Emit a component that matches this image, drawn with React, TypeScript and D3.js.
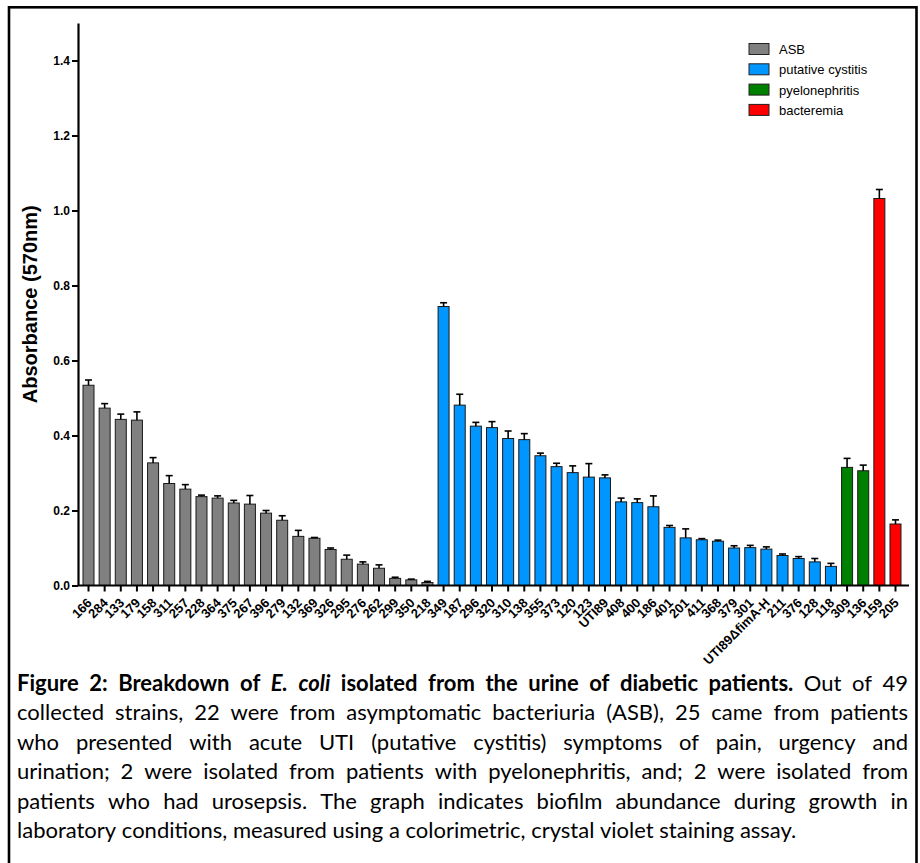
import React, { useEffect, useRef } from "react";
import * as d3 from "d3";

// strain labels per group
const asbStrains = ["166", "284", "133", "179", "158", "311", "257", "228", "364", "375", "267", "396", "279", "132", "369", "326", "295", "276", "262", "299", "350", "218"];
const cystitisStrains = ["349", "187", "296", "320", "310", "138", "355", "373", "120", "123", "UTI89", "408", "400", "186", "401", "201", "411", "368", "379", "301", "UTI89ΔfimA-H", "211", "376", "128", "118"];
const pyeloStrains = ["309", "136"];
const bacteremiaStrains = ["159", "205"];

// mean absorbance (570nm)
const asbMeans = [0.534, 0.473, 0.443, 0.441, 0.327, 0.272, 0.257, 0.237, 0.233, 0.22, 0.217, 0.193, 0.174, 0.131, 0.126, 0.096, 0.07, 0.057, 0.046, 0.019, 0.015, 0.008];
const cystitisMeans = [0.744, 0.481, 0.425, 0.421, 0.392, 0.389, 0.346, 0.317, 0.301, 0.289, 0.287, 0.223, 0.221, 0.21, 0.155, 0.127, 0.122, 0.118, 0.1, 0.101, 0.097, 0.08, 0.072, 0.063, 0.051];
const pyeloMeans = [0.315, 0.306];
const bacteremiaMeans = [1.032, 0.164];

// upper error bar (SEM)
const asbErrors = [0.014, 0.012, 0.014, 0.022, 0.014, 0.021, 0.012, 0.004, 0.006, 0.007, 0.023, 0.007, 0.012, 0.016, 0.002, 0.004, 0.011, 0.006, 0.009, 0.003, 0.002, 0.003];
const cystitisErrors = [0.01, 0.029, 0.01, 0.016, 0.02, 0.016, 0.007, 0.009, 0.018, 0.036, 0.008, 0.01, 0.01, 0.029, 0.005, 0.024, 0.003, 0.003, 0.006, 0.006, 0.006, 0.004, 0.005, 0.009, 0.008];
const pyeloErrors = [0.024, 0.015];
const bacteremiaErrors = [0.024, 0.011];

const groupNames = ["ASB", "putative cystitis", "pyelonephritis", "bacteremia"];
const groupColors = ["#808080", "#0096ff", "#008000", "#ff0000"];
const yTicks = [0, 0.2, 0.4, 0.6, 0.8, 1.0, 1.2, 1.4];

const captionLines = [
  "Figure 2: Breakdown of E. coli isolated from the urine of diabetic patients. Out of 49",
  "collected strains, 22 were from asymptomatic bacteriuria (ASB), 25 came from patients",
  "who presented with acute UTI (putative cystitis) symptoms of pain, urgency and",
  "urination; 2 were isolated from patients with pyelonephritis, and; 2 were isolated from",
  "patients who had urosepsis. The graph indicates biofilm abundance during growth in",
  "laboratory conditions, measured using a colorimetric, crystal violet staining assay.",
];

const WIDTH = 920;
const HEIGHT = 863;

export default function App() {
  const ref = useRef<SVGSVGElement>(null);

  useEffect(() => {
    const svg = d3.select(ref.current);
    svg.selectAll("*").remove();

    const rows = [
      [asbStrains, asbMeans, asbErrors],
      [cystitisStrains, cystitisMeans, cystitisErrors],
      [pyeloStrains, pyeloMeans, pyeloErrors],
      [bacteremiaStrains, bacteremiaMeans, bacteremiaErrors],
    ].flatMap(([names, means, errs]: any, g) =>
      names.map((n: string, i: number) => ({ name: n, mean: means[i], err: errs[i], group: g }))
    );

    const x = d3
      .scaleBand()
      .domain(rows.map((d) => d.name))
      .range([78, 906])
      .paddingInner(0.318)
      .paddingOuter(0.31);
    const y = d3.scaleLinear().domain([0, 1.5]).range([585.5, 23]);

    // frame
    svg
      .append("rect")
      .attr("x", 9)
      .attr("y", 7.3)
      .attr("width", 907.5)
      .attr("height", 900)
      .attr("fill", "none")
      .attr("stroke", "#000")
      .attr("stroke-width", 2.6);

    const chart = svg.append("g").attr("font-family", "'Liberation Sans', Arial, sans-serif");

    // bars
    chart
      .selectAll("rect.bar")
      .data(rows)
      .enter()
      .append("rect")
      .attr("class", "bar")
      .attr("x", (d) => x(d.name)!)
      .attr("y", (d) => y(d.mean))
      .attr("width", x.bandwidth())
      .attr("height", (d) => y(0) - y(d.mean))
      .attr("fill", (d) => groupColors[d.group])
      .attr("stroke", "#1a1a1a")
      .attr("stroke-width", 1);

    // error bars (upper only)
    const eb = chart
      .selectAll("g.err")
      .data(rows)
      .enter()
      .append("g")
      .attr("class", "err")
      .attr("stroke", "#000")
      .attr("stroke-width", 1.6);
    eb.append("line")
      .attr("x1", (d) => x(d.name)! + x.bandwidth() / 2)
      .attr("x2", (d) => x(d.name)! + x.bandwidth() / 2)
      .attr("y1", (d) => y(d.mean))
      .attr("y2", (d) => y(d.mean + d.err));
    eb.append("line")
      .attr("x1", (d) => x(d.name)! + x.bandwidth() / 2 - 3.5)
      .attr("x2", (d) => x(d.name)! + x.bandwidth() / 2 + 3.5)
      .attr("y1", (d) => y(d.mean + d.err))
      .attr("y2", (d) => y(d.mean + d.err));

    // y axis
    const yAxis = chart
      .append("g")
      .attr("transform", "translate(78,0)")
      .call(d3.axisLeft(y).tickValues(yTicks).tickFormat(d3.format(".1f")).tickSize(6).tickSizeOuter(0).tickPadding(2));
    yAxis.select(".domain").attr("stroke-width", 2.2);
    yAxis.selectAll(".tick line").attr("stroke-width", 2);
    yAxis.selectAll(".tick text").attr("font-size", 12).attr("font-weight", "bold").attr("fill", "#000");
    yAxis.attr("font-family", null);

    // x axis
    const xAxis = chart
      .append("g")
      .attr("transform", `translate(0,${y(0)})`)
      .call(d3.axisBottom(x).tickSize(6).tickSizeOuter(0));
    xAxis.select(".domain").attr("stroke-width", 2.2).attr("d", "M78,0H909");
    xAxis.selectAll(".tick line").attr("stroke-width", 2);
    xAxis
      .selectAll(".tick text")
      .attr("x", 0)
      .attr("y", 0)
      .attr("dy", "0.35em")
      .attr("text-anchor", "end")
      .attr("transform", "translate(1,15) rotate(-45)")
      .attr("font-size", 13)
      .attr("font-weight", "bold")
      .attr("fill", "#000");
    xAxis.attr("font-family", null);

    // y label
    chart
      .append("text")
      .attr("transform", `translate(37,${(y(0) + y(1.5)) / 2}) rotate(-90)`)
      .attr("text-anchor", "middle")
      .attr("font-size", 20)
      .attr("font-weight", "bold")
      .text("Absorbance (570nm)");

    // legend
    const legend = chart
      .selectAll("g.legend")
      .data(groupNames)
      .enter()
      .append("g")
      .attr("class", "legend")
      .attr("transform", (d, i) => `translate(749,${43.5 + i * 20.3})`);
    legend
      .append("rect")
      .attr("width", 20)
      .attr("height", 11)
      .attr("fill", (d, i) => groupColors[i])
      .attr("stroke", "#222")
      .attr("stroke-width", 1);
    legend
      .append("text")
      .attr("x", 30)
      .attr("y", 10.5)
      .attr("font-size", 13)
      .text((d) => d);

    // caption, justified like the source document
    const capLeft = 17;
    const capRight = 908;
    const capWidth = capRight - capLeft;
    const cap = svg.append("g").attr("font-family", "Lato, 'Open Sans', sans-serif").attr("fill", "#000");
    const probe = cap.append("text").attr("font-size", 20).text(captionLines[5]);
    const probeW = (probe.node() as SVGTextElement).getComputedTextLength();
    probe.remove();
    const fs = Math.max(16, Math.min(22, (20 * 815) / probeW));
    cap.attr("font-size", fs);

    const measure = (s: string, weight: string, style: string) => {
      const t = cap.append("text").attr("font-weight", weight).attr("font-style", style).text(s);
      const w = (t.node() as SVGTextElement).getComputedTextLength();
      t.remove();
      return w;
    };
    const spaceW = measure("x x", "normal", "normal") - measure("xx", "normal", "normal");

    captionLines.forEach((line, li) => {
      const words = line.split(" ").map((w, wi) => {
        const bold = li === 0 && wi < 13;
        const italic = li === 0 && (wi === 4 || wi === 5);
        const weight = bold ? "bold" : "normal";
        const style = italic ? "italic" : "normal";
        return { w, weight, style, len: measure(w, weight, style) };
      });
      const sum = d3.sum(words, (d) => d.len);
      const last = li === captionLines.length - 1;
      let gap = last ? spaceW : (capWidth - sum) / (words.length - 1);
      let sx = 1;
      if (gap < spaceW * 0.7) {
        gap = spaceW * 0.7;
        sx = capWidth / (sum + gap * (words.length - 1));
      }
      const g = cap
        .append("g")
        .attr("transform", `translate(${capLeft},${691 + li * 29.45}) scale(${sx},1)`);
      let cx = 0;
      words.forEach((d) => {
        g.append("text")
          .attr("x", cx)
          .attr("font-weight", d.weight)
          .attr("font-style", d.style)
          .text(d.w);
        cx += d.len + gap;
      });
    });
  }, []);

  return (
    <svg
      ref={ref}
      width={WIDTH}
      height={HEIGHT}
      style={{ position: "absolute", left: 0, top: 0, background: "#fff" }}
    />
  );
}
